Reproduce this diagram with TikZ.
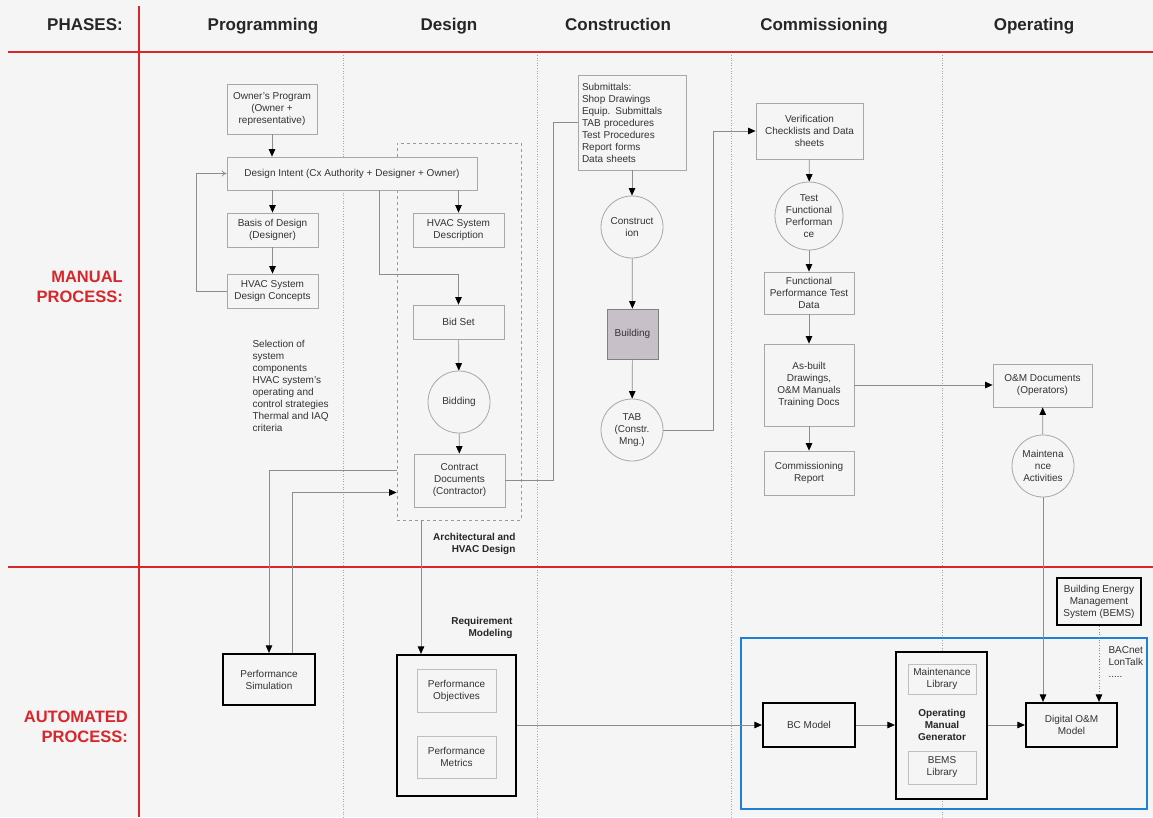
\documentclass[tikz,border=0pt]{standalone}
\usepackage{fontspec}
\setmainfont{Liberation Sans}
\usetikzlibrary{arrows.meta}
\definecolor{bg}{HTML}{F5F5F5}
\definecolor{redl}{HTML}{D9262B}
\definecolor{txt}{HTML}{333333}
\definecolor{ln}{HTML}{8C8C8C}
\definecolor{bx}{HTML}{A8A8A8}
\definecolor{bluel}{HTML}{1F7FD4}
\definecolor{bldg}{HTML}{C8C0C8}
\begin{document}
\begin{tikzpicture}[x=1pt,y=-1pt,
  every node/.style={text=txt, font=\fontsize{10}{12}\selectfont},
  box/.style={draw=bx, fill=bg, line width=0.8pt, align=center, inner sep=1pt},
  tbox/.style={draw=black, fill=bg, line width=2.2pt, align=center, inner sep=1pt},
  ibox/.style={draw=black!25, fill=bg, line width=0.8pt, align=center, inner sep=1pt},
  circ/.style={circle, draw=bx, fill=bg, line width=0.8pt, align=center, inner sep=0pt, minimum size=62pt},
  conn/.style={draw=ln, line width=0.7pt},
  arr/.style={conn, -{Triangle[length=7.5pt,width=6.5pt,color=black]}},
  hdr/.style={font=\fontsize{17}{20}\selectfont\bfseries, text=black!85, anchor=base},
  side/.style={font=\fontsize{16.5}{20}\selectfont\bfseries, text=redl, align=right, inner sep=0pt},
  lbl/.style={font=\fontsize{10}{12}\selectfont\bfseries, text=black!85},
  sep/.style={draw=black!35, line width=0.6pt, dotted},
]
\fill[bg] (0,0) rectangle (1153,817);
\useasboundingbox (0,0) rectangle (1153,817);

% separators
\foreach \xx in {343,537,731,942} \draw[sep] (\xx,55) -- (\xx,817);
% red lines
\draw[redl, line width=2.6pt] (8,52) -- (1153,52);
\draw[redl, line width=2.4pt] (8,567) -- (1153,567);
\draw[redl, line width=2pt] (139,6) -- (139,817);

% headers
\node[hdr] (hph) at (85,30) {PHASES:};
\node[hdr] (hpr) at (263,30) {Programming};
\node[hdr] (hde) at (449,30) {Design};
\node[hdr] (hco) at (618,30) {Construction};
\node[hdr] (hcm) at (824,30) {Commissioning};
\node[hdr] (hop) at (1034,30) {Operating};
\node[side, anchor=east] (sman) at (123,287) {MANUAL\\PROCESS:};
\node[side, anchor=east] (saut) at (128,727) {AUTOMATED\\PROCESS:};

% dashed design box
\node[draw=black!40, line width=0.8pt, dashed, minimum width=124pt, minimum height=377pt, inner sep=0pt] (dbox) at (459,331.5) {};

% programming / design
\node[box, minimum width=90pt, minimum height=50pt] (own) at (272,109) {Owner's Program\\(Owner +\\representative)};
\node[box, minimum width=250pt, minimum height=33pt] (di) at (352,173.5) {Design Intent (Cx Authority + Designer + Owner)};
\node[box, minimum width=91pt, minimum height=34pt] (bod) at (272.5,230) {Basis of Design\\(Designer)};
\node[box, minimum width=91pt, minimum height=34pt] (hsdc) at (272.5,291) {HVAC System\\Design Concepts};
\node[box, minimum width=91pt, minimum height=34pt] (hsd) at (458.5,230) {HVAC System\\Description};
\node[box, minimum width=91pt, minimum height=34pt] (bid) at (458.5,322) {Bid Set};
\node[circ] (bidding) at (459,402) {Bidding};
\node[box, minimum width=91pt, minimum height=53pt] (cd) at (459.5,480.5) {Contract\\Documents\\(Contractor)};
\node[anchor=north west, align=left] (sel) at (249,337) {Selection of\\system\\components\\HVAC system's\\operating and\\control strategies\\Thermal and IAQ\\criteria};
\node[lbl, anchor=north east, align=right] (arch) at (519,530) {Architectural and\\HVAC Design};

% construction
\node[box, minimum width=108pt, minimum height=95pt, text width=100pt, align=left] (sub) at (632,122.5) {Submittals:\\Shop Drawings\\Equip. Submittals\\TAB procedures\\Test Procedures\\Report forms\\Data sheets};
\node[circ] (cons) at (632,227) {Construct\\ion};
\node[draw=black!50, fill=bldg, line width=0.8pt, minimum width=51pt, minimum height=50pt, inner sep=0pt] (bldg) at (632.5,334) {Building};
\node[circ] (tab) at (632,430) {TAB\\(Constr.\\Mng.)};

% commissioning
\node[box, minimum width=107pt, minimum height=56pt] (ver) at (809.5,131) {Verification\\Checklists and Data\\sheets};
\node[circ, minimum size=68pt] (tfp) at (809,216) {Test\\Functional\\Performan\\ce};
\node[box, minimum width=90pt, minimum height=42pt] (fptd) at (809,293) {Functional\\Performance Test\\Data};
\node[box, minimum width=90pt, minimum height=82pt] (asb) at (809,385) {As-built\\Drawings,\\O\&M Manuals\\Training Docs};
\node[box, minimum width=90pt, minimum height=44pt] (cr) at (809,473) {Commissioning\\Report};

% operating
\node[box, minimum width=99pt, minimum height=43pt] (omd) at (1042.5,385.5) {O\&M Documents\\(Operators)};
\node[circ] (ma) at (1043,466) {Maintena\\nce\\Activities};
\node[tbox, minimum width=84pt, minimum height=47pt] (bems) at (1099,601.5) {Building Energy\\Management\\System (BEMS)};
\node[anchor=north west, align=left] (bac) at (1105,643) {BACnet\\LonTalk\\.....};

% automated
\node[draw=bluel, line width=2.2pt, minimum width=406pt, minimum height=171pt, inner sep=0pt] (blue) at (944,723.5) {};
\node[tbox, minimum width=92pt, minimum height=44pt] (bc) at (809,725) {BC Model};
\node[tbox, minimum width=91pt, minimum height=147pt] (omg) at (941.5,725.5) {};
\node[ibox, minimum width=68pt, minimum height=30pt] (ml) at (942,679) {Maintenance\\Library};
\node[lbl, align=center] (omgt) at (942,725) {Operating\\Manual\\Generator};
\node[ibox, minimum width=68pt, minimum height=33pt] (bl) at (942,767.5) {BEMS\\Library};
\node[tbox, minimum width=91pt, minimum height=44pt] (dom) at (1071.5,725) {Digital O\&M\\Model};
\node[tbox, minimum width=92pt, minimum height=51pt] (ps) at (269,679.5) {Performance\\Simulation};
\node[lbl, anchor=north east, align=right] (reqm) at (516,614) {Requirement\\Modeling};
\node[tbox, minimum width=119pt, minimum height=141pt] (rm) at (456.5,725.5) {};
\node[ibox, minimum width=79pt, minimum height=43pt] (po) at (456.5,690.5) {Performance\\Objectives};
\node[ibox, minimum width=79pt, minimum height=42pt] (pm) at (456.5,757) {Performance\\Metrics};

% connectors
\draw[arr] (own.south) -- (own.south |- di.north);
\draw[arr] (bod.north |- di.south) -- (bod.north);
\draw[arr] (bod) -- (hsdc);
\draw[conn, -{To[length=5pt,width=6pt]}] (hsdc.west) -- ++(-30,0) |- (di.west);
\draw[arr] (hsd.north |- di.south) -- (hsd.north);
\draw[arr] ([xshift=27pt]di.south) -- ++(0,84) -| (bid.north);
\draw[arr] (bid) -- (bidding);
\draw[arr] (bidding) -- (cd);
\draw[conn] (cd.east) -- ++(48,0) |- (sub.west);
\draw[arr] ([yshift=-138.5pt]dbox.west) -| (ps.north);
\draw[arr] ([xshift=23pt]ps.north) |- ([yshift=-161pt]dbox.west);
\draw[arr] ([xshift=-38pt]dbox.south) -- ([xshift=-35.5pt]rm.north);
\draw[arr] (sub) -- (cons);
\draw[arr] (cons) -- (bldg);
\draw[arr] (bldg) -- (tab);
\draw[arr] (tab.east) -- ++(50,0) |- (ver.west);
\draw[arr] (ver) -- (tfp);
\draw[arr] (tfp) -- (fptd);
\draw[arr] (fptd) -- (asb);
\draw[arr] (asb) -- (cr);
\draw[arr] (asb.east) -- (omd.west |- asb.east);
\draw[arr] (ma) -- (omd);
\draw[arr] (ma.south) -- (ma.south |- dom.north);
\draw[conn, dotted, -{Triangle[length=7.5pt,width=6.5pt,color=black]}] (bems.south) -- (bems.south |- dom.north);
\draw[arr] (bc.west -| rm.east) -- (bc.west);
\draw[arr] (bc.east) -- (bc.east -| omg.west);
\draw[arr] (omg.east |- dom.west) -- (dom.west);
\end{tikzpicture}
\end{document}
